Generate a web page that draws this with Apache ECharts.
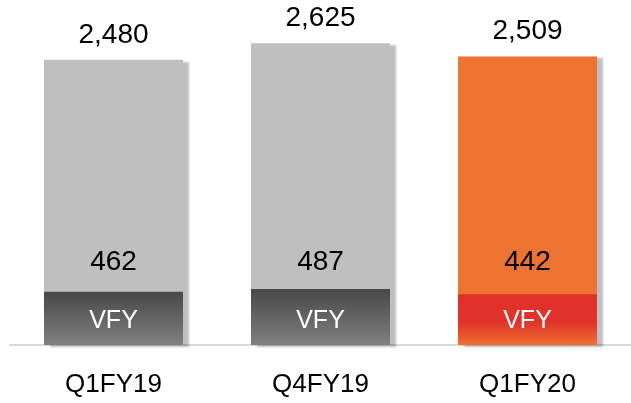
<!DOCTYPE html>
<html>
<head>
<meta charset="utf-8">
<script src="https://cdn.jsdelivr.net/npm/echarts@6/dist/echarts.min.js"></script>
<style>
  html, body { margin: 0; padding: 0; background: #fff; }
  #main { width: 631px; height: 403px; }
</style>
</head>
<body>
<div id="main"></div>
<script>
const quarters = ["Q1FY19", "Q4FY19", "Q1FY20"];
const totals = [2480, 2625, 2509];
const vfy = [462, 487, 442];

const grayTop = "#bfbfbf";
const orangeTop = "#ed7332";
const grayVfy = new echarts.graphic.LinearGradient(0, 0, 0, 1, [
  { offset: 0, color: "#484848" },
  { offset: 1, color: "#808080" },
]);
const redVfy = new echarts.graphic.LinearGradient(0, 0, 0, 1, [
  { offset: 0, color: "#e0302a" },
  { offset: 0.55, color: "#e0322a" },
  { offset: 1, color: "#ef6e30" },
]);

const shadow = {
  shadowColor: "rgba(0,0,0,0.25)",
  shadowBlur: 2,
  shadowOffsetX: 6,
  shadowOffsetY: 2,
};

const chart = echarts.init(document.getElementById("main"));
chart.setOption({
  animation: false,
  grid: { left: 10, width: 630, top: 0, bottom: 58 },
  xAxis: {
    type: "category",
    data: quarters,
    axisLine: { lineStyle: { color: "#d9d9d9", width: 2 } },
    axisTick: { show: false },
    axisLabel: {
      color: "#000",
      fontSize: 26,
      fontFamily: "Liberation Sans",
      margin: 27,
    },
  },
  yAxis: { type: "value", min: 0, max: 3000, show: false },
  series: [
    {
      // total bar
      type: "bar",
      barWidth: 139,
      data: totals.map((v, i) => ({
        value: v,
        itemStyle: { color: i === 2 ? orangeTop : grayTop },
      })),
      itemStyle: shadow,
      label: {
        show: true,
        position: "top",
        distance: 11,
        color: "#000",
        fontSize: 28,
        fontFamily: "Liberation Sans",
        formatter: (p) => p.value.toLocaleString("en-US"),
      },
    },
    {
      // VFY part at the bottom
      type: "bar",
      barWidth: 139,
      barGap: "-100%",
      data: vfy.map((v, i) => ({
        value: v,
        itemStyle: { color: i === 2 ? redVfy : grayVfy },
      })),
      label: {
        show: true,
        position: "insideBottom",
        distance: 0,
        fontFamily: "Liberation Sans",
        formatter: (p) => "{v|" + p.value + "}\n{n|VFY}",
        rich: {
          v: { color: "#000", fontSize: 28, lineHeight: 70, fontFamily: "Liberation Sans" },
          n: { color: "#fff", fontSize: 25, lineHeight: 48, fontFamily: "Liberation Sans" },
        },
      },
    },
  ],
});
</script>
</body>
</html>
